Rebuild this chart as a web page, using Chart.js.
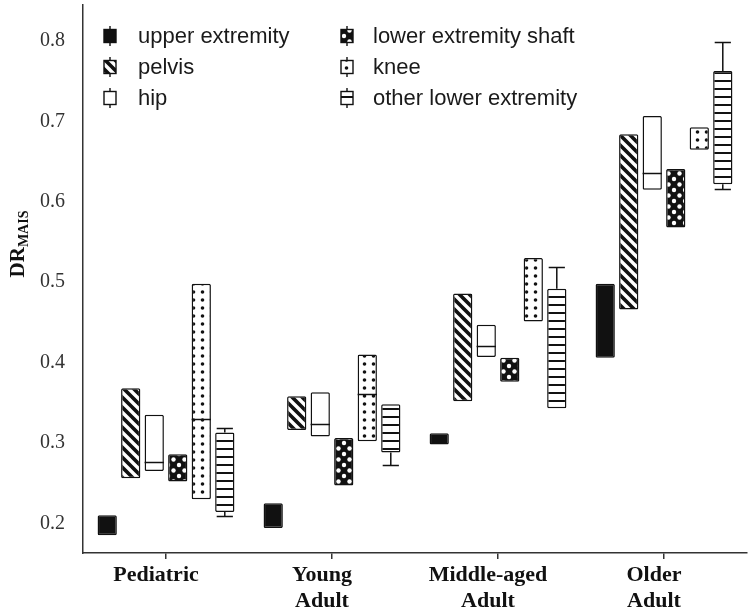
<!DOCTYPE html>
<html>
<head>
<meta charset="utf-8">
<script src="https://cdn.jsdelivr.net/npm/chart.js@4.4.0/dist/chart.umd.min.js"></script>
<style>
  body { margin: 0; background: #fff; }
</style>
</head>
<body>
<canvas id="chart" width="750" height="616"></canvas>
<script>
var ageGroups = [['Pediatric'], ['Young', 'Adult'], ['Middle-aged', 'Adult'], ['Older', 'Adult']];
var regionNames = ['upper extremity', 'pelvis', 'hip', 'lower extremity shaft', 'knee', 'other lower extremity'];

// boxes: [lower quartile, upper quartile] of DR_MAIS per age group
var upperBox = [[0.185, 0.210], [0.194, 0.225], [0.298, 0.312], [0.406, 0.498]];
var pelvisBox = [[0.256, 0.368], [0.316, 0.358], [0.352, 0.486], [0.466, 0.684]];
var hipBox = [[0.265, 0.335], [0.308, 0.363], [0.407, 0.447], [0.615, 0.707]];
var shaftBox = [[0.252, 0.286], [0.247, 0.306], [0.376, 0.406], [0.568, 0.641]];
var kneeBox = [[0.230, 0.498], [0.302, 0.410], [0.451, 0.530], [0.665, 0.693]];
var otherBox = [[0.214, 0.313], [0.288, 0.348], [0.343, 0.492], [0.622, 0.763]];

var hipMedian = [0.276, 0.324, 0.420, 0.636];
var kneeMedian = [0.330, 0.361, null, null];
var otherWhiskerLow = [0.209, 0.272, null, 0.616];
var otherWhiskerHigh = [0.318, null, 0.519, 0.799];

var yTicks = [0.2, 0.3, 0.4, 0.5, 0.6, 0.7, 0.8];

var ink = '#111';

function makeFill(kind) {
    if (kind == 'solid') return ink;
    if (kind == 'open') return '#fff';
    var c = document.createElement('canvas');
    var g = c.getContext('2d');
    if (kind == 'stripes') {
        c.width = 10; c.height = 10;
        g.fillStyle = ink; g.fillRect(0, 0, 10, 10);
        g.strokeStyle = '#fff'; g.lineWidth = 3.4;
        g.beginPath();
        g.moveTo(-2, -2); g.lineTo(12, 12);
        g.moveTo(-2, 8); g.lineTo(2, 12);
        g.moveTo(8, -2); g.lineTo(12, 2);
        g.stroke();
    } else if (kind == 'whiteDots') {
        c.width = 11; c.height = 11;
        g.fillStyle = ink; g.fillRect(0, 0, 11, 11);
        g.fillStyle = '#fff';
        g.beginPath(); g.arc(3, 3, 2.2, 0, Math.PI * 2); g.fill();
        g.beginPath(); g.arc(8.5, 8.5, 2.2, 0, Math.PI * 2); g.fill();
    } else if (kind == 'blackDots') {
        c.width = 9; c.height = 8;
        g.fillStyle = '#fff'; g.fillRect(0, 0, 9, 8);
        g.fillStyle = ink;
        g.beginPath(); g.arc(4.5, 4, 1.8, 0, Math.PI * 2); g.fill();
    } else if (kind == 'hlines') {
        c.width = 4; c.height = 8;
        g.fillStyle = '#fff'; g.fillRect(0, 0, 4, 8);
        g.fillStyle = ink; g.fillRect(0, 0, 4, 2);
    }
    return g.createPattern(c, 'repeat');
}

var fills = [makeFill('solid'), makeFill('stripes'), makeFill('open'),
             makeFill('whiteDots'), makeFill('blackDots'), makeFill('hlines')];
var boxes = [upperBox, pelvisBox, hipBox, shaftBox, kneeBox, otherBox];

// medians and whiskers on top of the floating bars
var boxExtras = {
    id: 'boxExtras',
    afterDatasetsDraw: function (chart) {
        var ctx = chart.ctx, y = chart.scales.y;
        ctx.save();
        ctx.strokeStyle = ink;
        ctx.lineWidth = 1.5;
        [[2, hipMedian], [4, kneeMedian]].forEach(function (pair) {
            var meta = chart.getDatasetMeta(pair[0]);
            pair[1].forEach(function (v, i) {
                if (v == null) return;
                var bar = meta.data[i];
                var py = Math.round(y.getPixelForValue(v)) + 0.5;
                ctx.beginPath();
                ctx.moveTo(bar.x - bar.width / 2, py);
                ctx.lineTo(bar.x + bar.width / 2, py);
                ctx.stroke();
            });
        });
        var meta = chart.getDatasetMeta(5);
        meta.data.forEach(function (bar, i) {
            var cap = bar.width * 0.42;
            [[otherBox[i][0], otherWhiskerLow[i]], [otherBox[i][1], otherWhiskerHigh[i]]].forEach(function (w) {
                if (w[1] == null) return;
                var y0 = y.getPixelForValue(w[0]), y1 = Math.round(y.getPixelForValue(w[1])) + 0.5;
                ctx.beginPath();
                ctx.moveTo(bar.x, y0); ctx.lineTo(bar.x, y1);
                ctx.moveTo(bar.x - cap, y1); ctx.lineTo(bar.x + cap, y1);
                ctx.stroke();
            });
        });
        ctx.restore();
    }
};

// legend in two columns inside the plot
var boxLegend = {
    id: 'boxLegend',
    afterDraw: function (chart) {
        var ctx = chart.ctx;
        var colIcon = [110, 347], colText = [138, 373], rowY = [36, 67, 98];
        ctx.save();
        chart.data.datasets.forEach(function (ds, i) {
            var col = Math.floor(i / 3), row = i % 3;
            var cx = colIcon[col], cy = rowY[row];
            ctx.strokeStyle = ink;
            ctx.lineWidth = 1.4;
            ctx.beginPath();
            ctx.moveTo(cx, cy - 10); ctx.lineTo(cx, cy + 10);
            ctx.stroke();
            ctx.fillStyle = ds.backgroundColor;
            ctx.fillRect(cx - 6, cy - 6.5, 12, 13);
            ctx.strokeRect(cx - 6, cy - 6.5, 12, 13);
            ctx.fillStyle = '#1a1a1a';
            ctx.font = '22px "Liberation Sans", Arial, sans-serif';
            ctx.textBaseline = 'middle';
            ctx.fillText(ds.label, colText[col], cy + 1);
        });
        ctx.restore();
    }
};

// y title DR with subscript MAIS
var yTitle = {
    id: 'yTitle',
    afterDraw: function (chart) {
        var ctx = chart.ctx;
        ctx.save();
        ctx.translate(24, 244);
        ctx.rotate(-Math.PI / 2);
        ctx.fillStyle = ink;
        ctx.textBaseline = 'alphabetic';
        ctx.font = 'bold 21px "Liberation Serif", serif';
        var w1 = ctx.measureText('DR').width;
        ctx.font = 'bold 14px "Liberation Serif", serif';
        var w2 = ctx.measureText('MAIS').width;
        var x0 = -(w1 + w2) / 2;
        ctx.font = 'bold 21px "Liberation Serif", serif';
        ctx.fillText('DR', x0, 0);
        ctx.font = 'bold 14px "Liberation Serif", serif';
        ctx.fillText('MAIS', x0 + w1, 4);
        ctx.restore();
    }
};

function noPad(s) {
    s.paddingTop = 0; s.paddingBottom = 0;
    s.paddingLeft = 0; s.paddingRight = 0;
}

var config = {
    type: 'bar',
    data: {
        labels: ageGroups,
        datasets: regionNames.map(function (name, i) {
            return {
                label: name,
                data: boxes[i],
                backgroundColor: fills[i],
                borderColor: ink,
                borderWidth: 1.5,
                borderSkipped: false,
                borderRadius: 1.5,
                barPercentage: 0.82,
                categoryPercentage: 0.85
            };
        })
    },
    options: {
        responsive: false,
        animation: false,
        devicePixelRatio: 1,
        layout: { padding: { top: 5, right: 3, left: 0, bottom: 0 } },
        plugins: {
            legend: { display: false },
            tooltip: { enabled: false }
        },
        scales: {
            x: {
                grid: { display: true, drawOnChartArea: false, drawTicks: true, tickLength: 6, offset: false, color: '#333', lineWidth: 1.5 },
                border: { display: true, color: '#333', width: 1.5 },
                ticks: {
                    color: ink,
                    font: { family: '"Liberation Serif", serif', size: 22, weight: 'bold', lineHeight: 1.2 },
                    padding: 3,
                    labelOffset: -10,
                    maxRotation: 0,
                    autoSkip: false
                },
                afterFit: function (s) { s.height = 63; noPad(s); }
            },
            y: {
                min: 0.163,
                max: 0.845,
                grid: { display: false },
                border: { display: true, color: '#333', width: 1.5 },
                afterBuildTicks: function (s) {
                    s.ticks = yTicks.map(function (v) { return { value: v }; });
                },
                ticks: {
                    color: '#333',
                    font: { family: '"Liberation Serif", serif', size: 20 },
                    padding: 10,
                    callback: function (v) { return v.toFixed(1); }
                },
                afterFit: function (s) { s.width = 83; noPad(s); }
            }
        }
    },
    plugins: [boxExtras, boxLegend, yTitle]
};

var chart = new Chart(document.getElementById('chart').getContext('2d'), config);
</script>
</body>
</html>
